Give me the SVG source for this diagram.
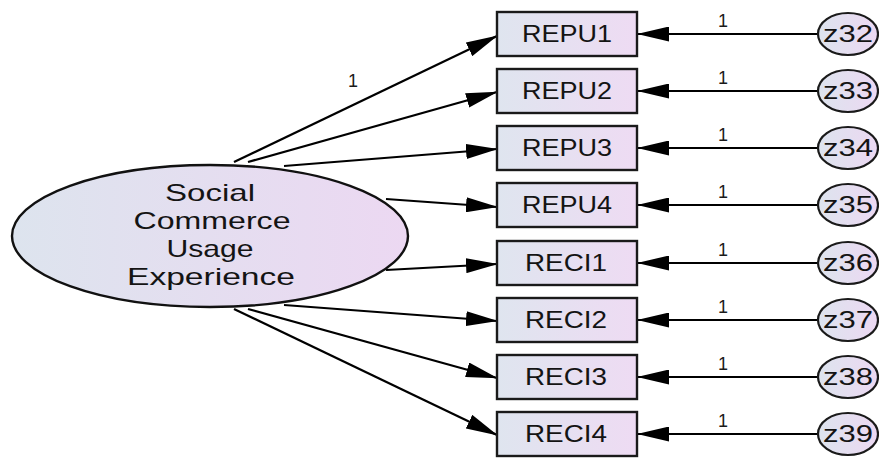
<svg xmlns="http://www.w3.org/2000/svg" width="879" height="460" viewBox="0 0 879 460">
  <defs>
    <linearGradient id="fillLat" x1="0" y1="0" x2="1" y2="0">
      <stop offset="0" stop-color="#dde4ee"/>
      <stop offset="1" stop-color="#ecd8f2"/>
    </linearGradient>
    <linearGradient id="fillObs" x1="0" y1="0" x2="1" y2="0">
      <stop offset="0" stop-color="#dfe5ef"/>
      <stop offset="1" stop-color="#eedbf3"/>
    </linearGradient>
    <marker id="head" viewBox="0 0 32 15" markerWidth="32" markerHeight="15" refX="31" refY="7.5" orient="auto" markerUnits="userSpaceOnUse">
      <path d="M0,0 L32,7.5 L0,15 Z" fill="#000"/>
    </marker>
    <style>
      .obs { fill: url(#fillObs); stroke: #1a1a1a; stroke-width: 2.4; }
      .err { fill: url(#fillLat); stroke: #1a1a1a; stroke-width: 2.2; }
      .lat { fill: url(#fillLat); stroke: #111; stroke-width: 2.4; }
      .lbl { font-family: "Liberation Sans", Arial, sans-serif; fill: #141414; text-anchor: middle; }
      .box { font-size: 24px; }
      .big { font-size: 24px; }
      .num { font-size: 18px; fill: #1a1a1a; }
      .path { stroke: #000; stroke-width: 2.2; fill: none; marker-end: url(#head); }
    </style>
  </defs>

  <!-- paths: latent factor to indicators, residuals to indicators -->
  <g id="connectors">
    <line class="path" x1="234" y1="162" x2="497" y2="36"/>
    <line class="path" x1="248" y1="162" x2="497" y2="92"/>
    <line class="path" x1="284" y1="166" x2="497" y2="149"/>
    <line class="path" x1="386" y1="199" x2="497" y2="207"/>
    <line class="path" x1="386" y1="270" x2="497" y2="264"/>
    <line class="path" x1="284" y1="305" x2="497" y2="321"/>
    <line class="path" x1="248" y1="309" x2="497" y2="378"/>
    <line class="path" x1="234" y1="309" x2="497" y2="435"/>

    <line class="path" x1="818" y1="34" x2="638" y2="34"/>
    <line class="path" x1="818" y1="91" x2="638" y2="91"/>
    <line class="path" x1="818" y1="148" x2="638" y2="148"/>
    <line class="path" x1="818" y1="205" x2="638" y2="205"/>
    <line class="path" x1="818" y1="263" x2="638" y2="263"/>
    <line class="path" x1="818" y1="320" x2="638" y2="320"/>
    <line class="path" x1="818" y1="377" x2="638" y2="377"/>
    <line class="path" x1="818" y1="434" x2="638" y2="434"/>

    <text class="lbl num" x="353" y="87">1</text>
    <text class="lbl num" x="723" y="27">1</text>
    <text class="lbl num" x="723" y="84">1</text>
    <text class="lbl num" x="723" y="141">1</text>
    <text class="lbl num" x="723" y="198">1</text>
    <text class="lbl num" x="723" y="256">1</text>
    <text class="lbl num" x="723" y="313">1</text>
    <text class="lbl num" x="723" y="370">1</text>
    <text class="lbl num" x="723" y="427">1</text>
  </g>

  <!-- latent factor -->
  <g id="social-commerce">
    <ellipse class="lat" cx="210" cy="236" rx="198" ry="71"/>
    <text class="lbl big" x="210" y="201" textLength="90" lengthAdjust="spacingAndGlyphs">Social</text>
    <text class="lbl big" x="212" y="229" textLength="157" lengthAdjust="spacingAndGlyphs">Commerce</text>
    <text class="lbl big" x="210" y="257" textLength="87" lengthAdjust="spacingAndGlyphs">Usage</text>
    <text class="lbl big" x="211" y="285" textLength="168" lengthAdjust="spacingAndGlyphs">Experience</text>
  </g>

  <!-- observed indicators -->
  <g id="repu1"><rect class="obs" x="497" y="12" width="140" height="44"/><text class="lbl box" x="567" y="42" textLength="90" lengthAdjust="spacingAndGlyphs">REPU1</text></g>
  <g id="repu2"><rect class="obs" x="497" y="69" width="140" height="44"/><text class="lbl box" x="567" y="99" textLength="90" lengthAdjust="spacingAndGlyphs">REPU2</text></g>
  <g id="repu3"><rect class="obs" x="497" y="126" width="140" height="44"/><text class="lbl box" x="567" y="156" textLength="90" lengthAdjust="spacingAndGlyphs">REPU3</text></g>
  <g id="repu4"><rect class="obs" x="497" y="183" width="140" height="44"/><text class="lbl box" x="567" y="213" textLength="90" lengthAdjust="spacingAndGlyphs">REPU4</text></g>
  <g id="reci1"><rect class="obs" x="497" y="241" width="140" height="44"/><text class="lbl box" x="566" y="271" textLength="82" lengthAdjust="spacingAndGlyphs">RECI1</text></g>
  <g id="reci2"><rect class="obs" x="497" y="298" width="140" height="44"/><text class="lbl box" x="566" y="328" textLength="82" lengthAdjust="spacingAndGlyphs">RECI2</text></g>
  <g id="reci3"><rect class="obs" x="497" y="355" width="140" height="44"/><text class="lbl box" x="566" y="385" textLength="82" lengthAdjust="spacingAndGlyphs">RECI3</text></g>
  <g id="reci4"><rect class="obs" x="497" y="412" width="140" height="44"/><text class="lbl box" x="566" y="442" textLength="82" lengthAdjust="spacingAndGlyphs">RECI4</text></g>

  <!-- residual terms -->
  <g id="z32"><ellipse class="err" cx="848" cy="34" rx="30" ry="21"/><text class="lbl box" x="848" y="42" textLength="50" lengthAdjust="spacingAndGlyphs">z32</text></g>
  <g id="z33"><ellipse class="err" cx="848" cy="91" rx="30" ry="21"/><text class="lbl box" x="848" y="99" textLength="50" lengthAdjust="spacingAndGlyphs">z33</text></g>
  <g id="z34"><ellipse class="err" cx="848" cy="148" rx="30" ry="21"/><text class="lbl box" x="848" y="156" textLength="50" lengthAdjust="spacingAndGlyphs">z34</text></g>
  <g id="z35"><ellipse class="err" cx="848" cy="205" rx="30" ry="21"/><text class="lbl box" x="848" y="213" textLength="50" lengthAdjust="spacingAndGlyphs">z35</text></g>
  <g id="z36"><ellipse class="err" cx="848" cy="263" rx="30" ry="21"/><text class="lbl box" x="848" y="271" textLength="50" lengthAdjust="spacingAndGlyphs">z36</text></g>
  <g id="z37"><ellipse class="err" cx="848" cy="320" rx="30" ry="21"/><text class="lbl box" x="848" y="328" textLength="50" lengthAdjust="spacingAndGlyphs">z37</text></g>
  <g id="z38"><ellipse class="err" cx="848" cy="377" rx="30" ry="21"/><text class="lbl box" x="848" y="385" textLength="50" lengthAdjust="spacingAndGlyphs">z38</text></g>
  <g id="z39"><ellipse class="err" cx="848" cy="434" rx="30" ry="21"/><text class="lbl box" x="848" y="442" textLength="50" lengthAdjust="spacingAndGlyphs">z39</text></g>
</svg>
